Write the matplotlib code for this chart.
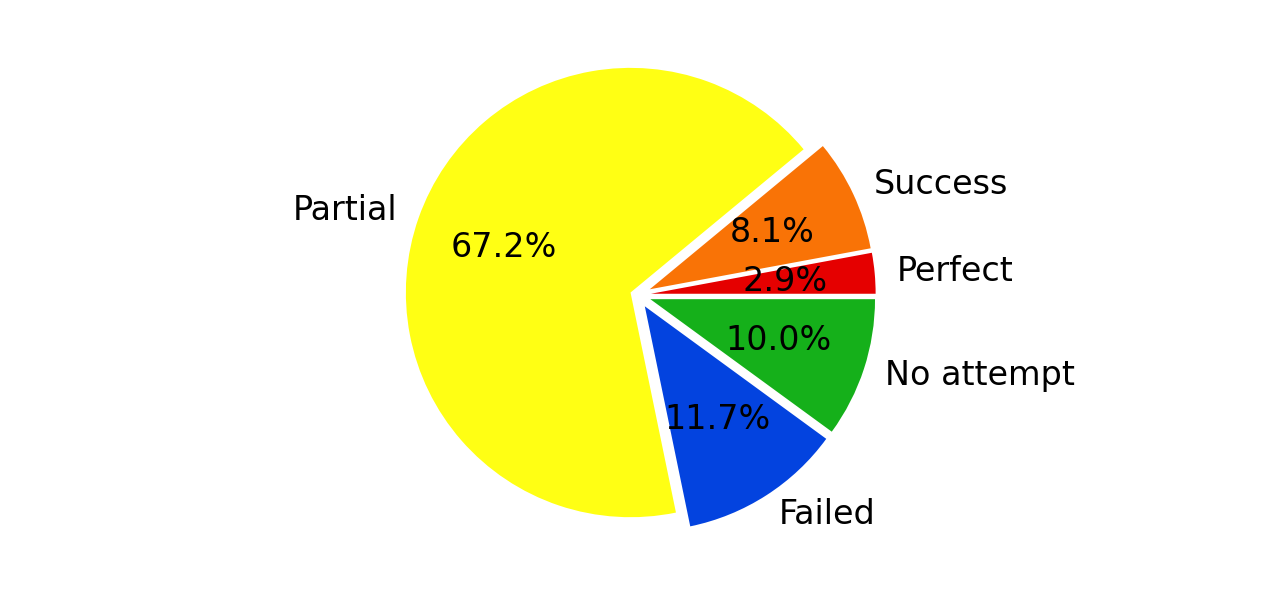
import matplotlib
matplotlib.use("Agg")
import matplotlib.pyplot as plt

# share of attempts per outcome (percent)
labels = ['Perfect', 'Success', 'Partial', 'Failed', 'No attempt']
shares = [2.92, 8.08, 67.24, 11.72, 10.04]
colors = ['xkcd:red', 'xkcd:orange', 'xkcd:yellow', 'xkcd:blue', 'xkcd:green']
explode = [0.06, 0.06, 0.033, 0.06, 0.06]

fig = plt.figure(figsize=(12.8, 5.92), dpi=100)
ax = fig.add_axes([0, 0, 1, 1])
ax.pie(shares, labels=labels, colors=colors, explode=explode,
       autopct='%1.1f%%', startangle=0, textprops={'fontsize': 24})
ax.set_aspect('equal')
# scale: pie radius ~225 px, centre slightly left of the middle
ax.set_xlim(-2.837, 2.859)
ax.set_ylim(-1.322, 1.313)
ax.axis('off')

fig.savefig('out.png', dpi=100)
